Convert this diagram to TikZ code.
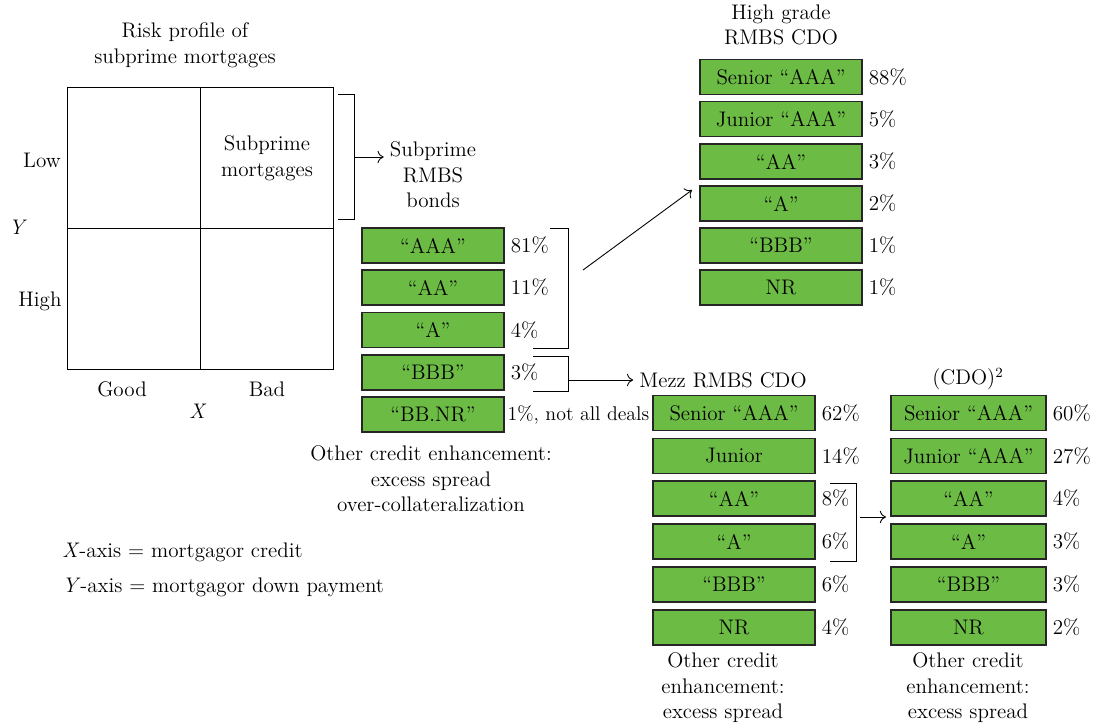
\documentclass[tikz,border=0pt]{standalone}
\usetikzlibrary{positioning,arrows.meta}
\definecolor{trgreen}{RGB}{108,187,69}

\begin{document}
\begin{tikzpicture}[x=0.02cm,y=-0.02cm,>={To[length=3.5pt,width=7pt]},line width=0.5pt,font=\fontsize{12}{14.5}\selectfont]

            \tikzstyle{every node}=[align=center]
            \tikzstyle{tranche}=[draw=black!85,line width=0.7pt,fill=trgreen,minimum height=0.7cm,inner sep=0pt]
            \tikzstyle{rmbs}=[tranche,minimum width=2.84cm]
            \tikzstyle{cdo}=[tranche,minimum width=3.24cm]
            \tikzstyle{cdosq}=[tranche,minimum width=3.1cm]
            \tikzstyle{share}=[anchor=west,inner sep=3.3pt]

            \useasboundingbox (0,0) rectangle (1094,727);

            % risk profile grid
            \node (risk) at (185,45) {Risk profile of\\subprime mortgages};
            \draw (67,87) rectangle (333,369);
            \draw (200,87) -- (200,369);
            \draw (67,228) -- (333,228);
            \node (low)  at (42,160)  {Low};
            \node (high) at (40,301)  {High};
            \node (ylab) at (18,227)  {\textit{Y}};
            \node (good) at (122,389) {Good};
            \node (bad)  at (267,389) {Bad};
            \node (xlab) at (198,411) {\textit{X}};
            \node (sub)  at (267,158) {Subprime\\mortgages};

            \draw (338,94) -| (354,219) -- (338,219);
            \coordinate (gb) at (354,157);
            \node (bonds) at (433,175) {Subprime\\RMBS\\bonds};
            \draw[->] (gb) -- (gb -| bonds.west);

            % subprime RMBS bonds
            \node[rmbs] (r1) at (433,245.5) {``AAA''};
            \node[rmbs] (r2) at (433,287.5) {``AA''};
            \node[rmbs] (r3) at (433,330)   {``A''};
            \node[rmbs] (r4) at (433,372.5) {``BBB''};
            \node[rmbs] (r5) at (433,414.5) {``BB.NR''};
            \node[share] (pr1) [right=0pt of r1] {81\%};
            \node[share] (pr2) [right=0pt of r2] {11\%};
            \node[share] (pr3) [right=0pt of r3] {4\%};
            \node[share] (pr4) [right=0pt of r4] {3\%};
            \node[share,inner sep=1.5pt,font=\fontsize{11.3}{14}\selectfont] (pr5) [right=0pt of r5] {1\%, not all deals};
            \node (rother) at (431,479) {Other credit enhancement:\\excess spread\\over-collateralization};

            \draw (550,228) -| (568,348) -- (533,348);
            \coordinate (up0) at (583,270);
            \coordinate (up1) at (692,190);
            \draw[->] (up0) -- (up1);

            \draw (533,356) -| (568,391) -- (533,391);
            \coordinate (dn0) at (568,380);
            \node (mezz) at (723,380) {Mezz RMBS CDO};
            \draw[->] (dn0) -- (mezz.west);

            % high grade CDO
            \node (hg) at (781,25) {High grade\\RMBS CDO};
            \node[cdo] (h1) at (781,77)    {Senior ``AAA''};
            \node[cdo] (h2) at (781,119)   {Junior ``AAA''};
            \node[cdo] (h3) at (781,161.5) {``AA''};
            \node[cdo] (h4) at (781,203.5) {``A''};
            \node[cdo] (h5) at (781,245.5) {``BBB''};
            \node[cdo] (h6) at (781,287.5) {NR};
            \node[share] (ph1) [right=0pt of h1] {88\%};
            \node[share] (ph2) [right=0pt of h2] {5\%};
            \node[share] (ph3) [right=0pt of h3] {3\%};
            \node[share] (ph4) [right=0pt of h4] {2\%};
            \node[share] (ph5) [right=0pt of h5] {1\%};
            \node[share] (ph6) [right=0pt of h6] {1\%};

            % mezz CDO
            \node[cdo] (m1) at (734,413)   {Senior ``AAA''};
            \node[cdo] (m2) at (734,456)   {Junior};
            \node[cdo] (m3) at (734,498.5) {``AA''};
            \node[cdo] (m4) at (734,541.5) {``A''};
            \node[cdo] (m5) at (734,584.5) {``BBB''};
            \node[cdo] (m6) at (734,627.5) {NR};
            \node[share] (pm1) [right=0pt of m1] {62\%};
            \node[share] (pm2) [right=0pt of m2] {14\%};
            \node[share] (pm3) [right=0pt of m3] {8\%};
            \node[share] (pm4) [right=0pt of m4] {6\%};
            \node[share] (pm5) [right=0pt of m5] {6\%};
            \node[share] (pm6) [right=0pt of m6] {4\%};
            \node (mother) at (723,688) {Other credit\\enhancement:\\excess spread};

            \draw (830,483) -| (856,561) -- (830,561);
            \coordinate (sq0) at (860,517);
            \coordinate (sq1) at (886,517);
            \draw[->] (sq0) -- (sq1);

            % CDO squared
            \node (cdo2) at (968,379) {(CDO)\textsuperscript{2}};
            \node[cdosq] (c1) at (968.5,413)   {Senior ``AAA''};
            \node[cdosq] (c2) at (968.5,456)   {Junior ``AAA''};
            \node[cdosq] (c3) at (968.5,498.5) {``AA''};
            \node[cdosq] (c4) at (968.5,541.5) {``A''};
            \node[cdosq] (c5) at (968.5,584.5) {``BBB''};
            \node[cdosq] (c6) at (968.5,627.5) {NR};
            \node[share] (pc1) [right=0pt of c1] {60\%};
            \node[share] (pc2) [right=0pt of c2] {27\%};
            \node[share] (pc3) [right=0pt of c3] {4\%};
            \node[share] (pc4) [right=0pt of c4] {3\%};
            \node[share] (pc5) [right=0pt of c5] {3\%};
            \node[share] (pc6) [right=0pt of c6] {2\%};
            \node (cother) at (968,688) {Other credit\\enhancement:\\excess spread};

            % axis notes
            \node[anchor=west] (xnote) at (56,552) {\textit{X}-axis = mortgagor credit};
            \node[anchor=west] (ynote) at (56,587) {\textit{Y}-axis = mortgagor down payment};
        \end{tikzpicture}
\end{document}
